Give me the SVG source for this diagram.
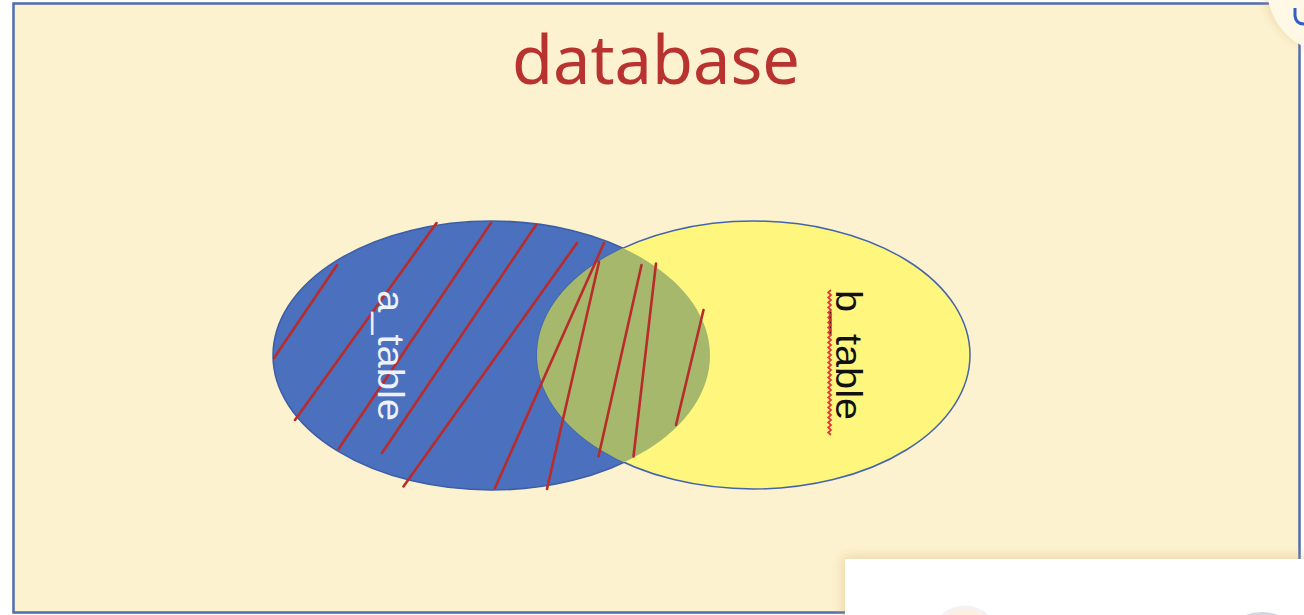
<svg xmlns="http://www.w3.org/2000/svg" width="1304" height="615" viewBox="0 0 1304 615">
<style>
.hatch line{stroke:#b82c2c;stroke-width:2.6;stroke-linecap:round}
.lbl{font-family:"Liberation Sans","Noto Sans",Arial,sans-serif;font-size:37px}
</style>
<defs>
<clipPath id="clipA"><ellipse cx="491.5" cy="355.5" rx="218.5" ry="134.5"/></clipPath>
<filter id="sh" x="-20%" y="-50%" width="140%" height="200%">
<feGaussianBlur in="SourceAlpha" stdDeviation="6"/>
<feOffset dx="-3" dy="-3" result="b"/>
<feFlood flood-color="#c9a860" flood-opacity="0.35"/>
<feComposite in2="b" operator="in"/>
<feMerge><feMergeNode/><feMergeNode in="SourceGraphic"/></feMerge>
</filter>
</defs>
<rect width="1304" height="615" fill="#ffffff"/>
<g id="database">
<rect x="13.5" y="3.5" width="1286" height="609" fill="#fdf2d0" stroke="#4f6cae" stroke-width="2.5"/>
<text x="656" y="84" text-anchor="middle" font-family="'Noto Sans','Liberation Sans',sans-serif" font-size="68" fill="#b8332f" textLength="288" lengthAdjust="spacingAndGlyphs">database</text>
</g>
<g id="a_table">
<ellipse cx="491.5" cy="355.5" rx="218.5" ry="134.5" fill="#4a70be" stroke="#3d5ea6" stroke-width="1.5"/>
</g>
<g id="b_table">
<ellipse cx="753.5" cy="355" rx="216.5" ry="134" fill="#fff67e" stroke="#4565ab" stroke-width="1.5"/>
</g>
<g id="overlap">
<ellipse cx="753.5" cy="355" rx="216.5" ry="134" fill="#a6b86b" clip-path="url(#clipA)"/>
</g>
<g id="hatch" class="hatch">
<line x1="337" y1="265" x2="274" y2="358"/>
<line x1="436.5" y1="223" x2="295" y2="420"/>
<line x1="491" y1="223" x2="338.5" y2="449"/>
<line x1="536" y1="225" x2="382" y2="453"/>
<line x1="577" y1="243" x2="403.5" y2="486.5"/>
<line x1="604" y1="243" x2="495" y2="488"/>
<line x1="599" y1="262" x2="547" y2="489"/>
<line x1="641.5" y1="265" x2="598.5" y2="456.5"/>
<line x1="656" y1="263.5" x2="633.5" y2="456.5"/>
<line x1="703.5" y1="310" x2="676" y2="425"/>
</g>
<g id="labels">
<text class="lbl" x="378" y="290" fill="#eef2fa" transform="rotate(90 378 290)" textLength="131" lengthAdjust="spacingAndGlyphs">a_table</text>
<text class="lbl" x="836" y="290" fill="#111111" transform="rotate(90 836 290)" textLength="130" lengthAdjust="spacingAndGlyphs">b_table</text>
<path d="M831,290 l-2.8,2.5 l2.8,2.5 l-2.8,2.5 l2.8,2.5 l-2.8,2.5 l2.8,2.5 l-2.8,2.5 l2.8,2.5 l-2.8,2.5 l2.8,2.5 l-2.8,2.5 l2.8,2.5 l-2.8,2.5 l2.8,2.5 l-2.8,2.5 l2.8,2.5 l-2.8,2.5 l2.8,2.5 l-2.8,2.5 l2.8,2.5 l-2.8,2.5 l2.8,2.5 l-2.8,2.5 l2.8,2.5 l-2.8,2.5 l2.8,2.5 l-2.8,2.5 l2.8,2.5 l-2.8,2.5 l2.8,2.5 l-2.8,2.5 l2.8,2.5 l-2.8,2.5 l2.8,2.5 l-2.8,2.5 l2.8,2.5 l-2.8,2.5 l2.8,2.5 l-2.8,2.5 l2.8,2.5 l-2.8,2.5 l2.8,2.5 l-2.8,2.5 l2.8,2.5 l-2.8,2.5 l2.8,2.5 l-2.8,2.5 l2.8,2.5 l-2.8,2.5 l2.8,2.5 l-2.8,2.5 l2.8,2.5 l-2.8,2.5 l2.8,2.5 l-2.8,2.5 l2.8,2.5 l-2.8,2.5 l2.8,2.5" fill="none" stroke="#e03a3a" stroke-width="1.8"/>
</g>
<g id="overlays">
<circle cx="1332" cy="-12" r="65" fill="#fff8e6" filter="url(#sh)"/>
<path d="M1295,8 L1295,16 Q1296,24 1304,24" fill="none" stroke="#2f5ec6" stroke-width="3"/>
<rect x="845" y="559" width="470" height="70" fill="#ffffff" filter="url(#sh)"/>
<circle cx="965" cy="640" r="33" fill="#fdf0e2" stroke="#f2f2f4" stroke-width="3"/>
<circle cx="1262" cy="660" r="48" fill="#d6d6e0"/>
</g>
</svg>
